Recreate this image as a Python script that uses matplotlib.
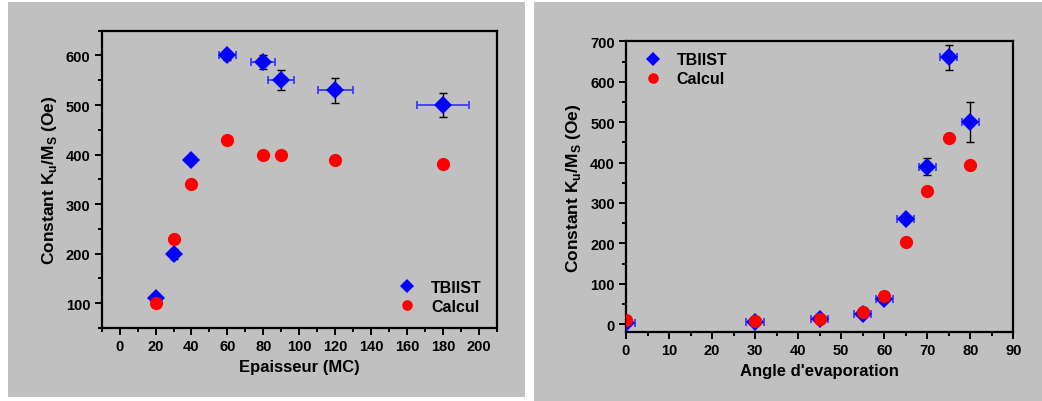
import matplotlib
matplotlib.use("Agg")
import matplotlib.pyplot as plt
from matplotlib.patches import Rectangle
from matplotlib.ticker import MultipleLocator

plt.rcParams['font.family'] = ['Liberation Sans', 'DejaVu Sans']
plt.rcParams['font.weight'] = 'bold'
plt.rcParams['mathtext.fontset'] = 'custom'
plt.rcParams['mathtext.rm'] = 'Liberation Sans:bold'
plt.rcParams['mathtext.bf'] = 'Liberation Sans:bold'

# Thickness series (MC)
thick_x = [20, 30, 40, 60, 80, 90, 120, 180]
thick_tbiist = [110, 200, 390, 600, 587, 550, 530, 500]
thick_tbiist_yerr = [6, 10, 8, 10, 14, 20, 25, 25]
thick_tbiist_xerr = [2, 2, 2, 4.7, 6.6, 7.3, 9.7, 14.5]
thick_calcul = [100, 230, 340, 430, 400, 400, 390, 380]

# Evaporation-angle series (degrees)
angle_x = [0, 30, 45, 55, 60, 65, 70, 75, 80]
angle_tbiist = [2, 5, 12, 25, 62, 260, 390, 660, 500]
angle_tbiist_yerr = [4, 4, 4, 5, 6, 8, 22, 30, 50]
angle_tbiist_xerr = [2, 2, 2, 2, 2, 2, 2, 2, 2]
angle_calcul = [10, 8, 13, 30, 70, 203, 330, 460, 393]

W, H = 1042, 402
fig = plt.figure(figsize=(W / 100, H / 100), dpi=100, facecolor='white')

GRAY = '#c0c0c0'
fig.patches.append(Rectangle((8 / W, 4 / H), 517 / W, 395 / H, transform=fig.transFigure,
                             facecolor=GRAY, edgecolor='none', zorder=-5))
fig.patches.append(Rectangle((534 / W, 0), 508 / W, 399 / H, transform=fig.transFigure,
                             facecolor=GRAY, edgecolor='none', zorder=-5))

YLABEL = r"Constant K$_{\rm u}$/M$_{\rm S}$ (Oe)"


def style_axes(ax, xmaj, xmin, ymaj, ymin):
    ax.set_facecolor(GRAY)
    for s in ax.spines.values():
        s.set_linewidth(1.6)
    ax.xaxis.set_major_locator(MultipleLocator(xmaj))
    ax.xaxis.set_minor_locator(MultipleLocator(xmin))
    ax.yaxis.set_major_locator(MultipleLocator(ymaj))
    ax.yaxis.set_minor_locator(MultipleLocator(ymin))
    ax.tick_params(which='both', direction='out', width=1.4, labelsize=10.5, pad=3)
    ax.tick_params(which='major', length=5)
    ax.tick_params(which='minor', length=3)
    for lab in ax.get_xticklabels() + ax.get_yticklabels():
        lab.set_fontweight('bold')


def draw(ax, x, y, xerr, yerr, yc):
    ax.errorbar(x, y, xerr=xerr, fmt='none', ecolor='#3a3aff', elinewidth=1.3,
                capsize=3, capthick=1.3, zorder=2)
    ax.errorbar(x, y, yerr=yerr, fmt='none', ecolor='black', elinewidth=1.0,
                capsize=3, capthick=1.0, zorder=2)
    h1, = ax.plot(x, y, 'D', color='#0000ff', markersize=9.5, markeredgewidth=0,
                  label='TBIIST', zorder=3)
    h2, = ax.plot(x, yc, 'o', color='#ff0000', markersize=9.5, markeredgewidth=0,
                  label='Calcul', zorder=4)
    return h1, h2


def legend(ax, handles, **kw):
    leg = ax.legend(handles=handles, frameon=False, fontsize=11.5, handlelength=1.0,
                    handletextpad=1.0, labelspacing=0.25, borderpad=0.2,
                    markerscale=0.8, **kw)
    for t in leg.get_texts():
        t.set_fontweight('bold')
    return leg


# Left: thickness
ax1 = fig.add_axes([101.7 / W, (H - 329) / H, 395 / W, 297.3 / H])
h1, h2 = draw(ax1, thick_x, thick_tbiist, thick_tbiist_xerr, thick_tbiist_yerr, thick_calcul)
ax1.set_xlim(-10, 210)
ax1.set_ylim(50, 650)
style_axes(ax1, 20, 10, 100, 50)
ax1.set_xlabel("Epaisseur (MC)", fontsize=12, fontweight='bold', labelpad=4)
ax1.set_ylabel(YLABEL, fontsize=12.5, fontweight='bold', labelpad=5)
legend(ax1, [h1, h2], loc='lower right', bbox_to_anchor=(0.99, 0.01))

# Right: evaporation angle
ax2 = fig.add_axes([626 / W, (H - 333.3) / H, 387.3 / W, 291 / H])
h1, h2 = draw(ax2, angle_x, angle_tbiist, angle_tbiist_xerr, angle_tbiist_yerr, angle_calcul)
ax2.set_xlim(0, 90)
ax2.set_ylim(-20, 700)
style_axes(ax2, 10, 5, 100, 50)
ax2.set_xlabel("Angle d'evaporation", fontsize=12, fontweight='bold', labelpad=4)
ax2.set_ylabel(YLABEL, fontsize=12.5, fontweight='bold', labelpad=5)
legend(ax2, [h1, h2], loc='upper left', bbox_to_anchor=(0.02, 1.0))

fig.savefig("out.png", dpi=100, facecolor='white')
